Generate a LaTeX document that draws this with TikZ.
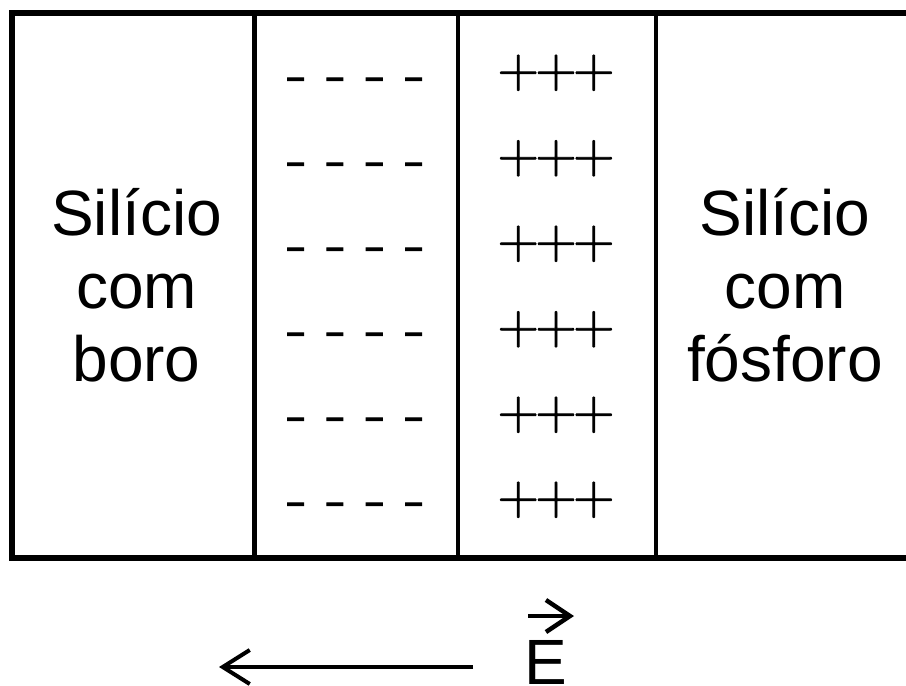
\documentclass[tikz,border=0pt]{standalone}
\usepackage{fontspec}
\setsansfont{Liberation Sans}
\newfontfamily\chargefont[FakeBold=1.6]{Latin Modern Roman}
\usetikzlibrary{arrows.meta}
\begin{document}
\begin{tikzpicture}[x=1pt,y=-1pt,
  frame/.style={line width=6pt},
  divider/.style={line width=4.5pt},
  label/.style={font=\sffamily\fontsize{64}{73}\selectfont, inner sep=0pt, anchor=base},
  minusrow/.style={font=\chargefont\fontsize{64}{64}\selectfont, inner sep=0pt, anchor=base},
  plusrow/.style={font=\chargefont\fontsize{57}{57}\selectfont, inner sep=0pt, anchor=base},
  fieldarrow/.style={line width=4pt, -{Straight Barb[length=27pt,width=34pt]}},
  vecarrow/.style={line width=4.5pt, -{Straight Barb[length=24pt,width=32pt]}}]
  \useasboundingbox (0,0) rectangle (906,686);
  \clip (0,0) rectangle (906,686);
  % outer frame (open to the right)
  \draw[frame] (930,13) -- (12,13) -- (12,558) -- (930,558);
  % region boundaries
  \foreach \xx in {254.5,458,656}
    \draw[divider] (\xx,13) -- (\xx,558);
  % charges
  \foreach \yy [count=\i] in {79,164,249,334,419,504}
    \node[minusrow] (neg\i) at (356,\yy+14) {-\hspace{20pt}-\hspace{20pt}-\hspace{20pt}-};
  \foreach \yy [count=\i] in {73,158.5,244,329.5,415,500}
    \node[plusrow] (pos\i) at (556,\yy+14) {+\kern-3.3pt+\kern-3.3pt+};
  % side labels
  \node[label] (lA) at (136.5,235) {Silício};
  \node[label] (lB) at (136.5,308) {com};
  \node[label] (lC) at (136.5,381) {boro};
  \node[label] (rA) at (785,235) {Silício};
  \node[label] (rB) at (785,308) {com};
  \node[label] (rC) at (785,381) {fósforo};
  % electric field
  \coordinate (ftail) at (473,667);
  \coordinate (fhead) at (219,667);
  \draw[fieldarrow] (ftail) -- (fhead);
  \node[label] (E) at (546,684) {E};
  \coordinate (vtail) at (528,616);
  \coordinate (vhead) at (574,616);
  \draw[vecarrow] (vtail) -- (vhead);
\end{tikzpicture}
\end{document}
